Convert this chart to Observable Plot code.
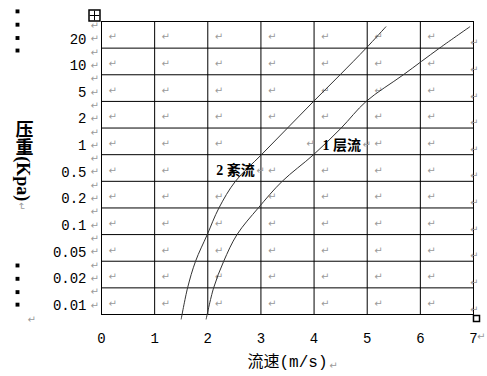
<!DOCTYPE html>
<html><head><meta charset="utf-8">
<script src="https://cdn.jsdelivr.net/npm/d3@7"></script>
<script src="https://cdn.jsdelivr.net/npm/@observablehq/plot@0.6"></script>
<style>
html,body{margin:0;padding:0;background:#fff;}
#chart svg{display:block;}
</style></head><body><div id="chart"></div>
<script>
// ---- data ----
// pressure row labels (Kpa), top row to bottom row
const rowLabels = ["20", "10", "5", "2", "1", "0.5", "0.2", "0.1", "0.05", "0.02", "0.01"];
// velocity tick labels (m/s)
const xTicks = [0, 1, 2, 3, 4, 5, 6, 7];
// curve 1: laminar (层流) — velocity vs row position (0 = bottom edge, 11 = top edge)
const laminarV   = [1.97, 2.11, 2.30, 2.55, 2.95, 3.40, 3.99, 4.51, 4.98, 5.68, 6.36, 6.93];
const laminarRow = [-0.17, 1, 2, 3, 4, 5, 6, 7, 8, 9, 10, 10.8];
// curve 2: turbulent (紊流)
const turbV   = [1.50, 1.62, 1.77, 1.99, 2.21, 2.52, 3.01, 3.50, 3.99, 4.49, 4.98, 5.35];
const turbRow = [-0.17, 1, 2, 3, 4, 5, 6, 7, 8, 9, 10, 10.8];
// curve labels
const curveNames = ["1 层流", "2 紊流"];
const curveLabelV = [4.16, 2.16];
const curveLabelRow = [6.36, 5.39];
// titles
const xTitle = "流速(m/s)";
const yTitle = "压重(Kpa)";
// left-margin bullet marks (row positions)
const bulletRows = [11.38, 10.88, 10.38, 9.91, 1.84, 1.34, 0.84, 0.37];

// ---- derived tables ----
const rowIdx = rowLabels.map((d, i) => 10 - i);
const tickPos = rowIdx.map(k => k + 0.34);
const labelOf = new Map(tickPos.map((p, i) => [p, rowLabels[i]]));
const laminar = laminarV.map((v, i) => ({v, r: laminarRow[i]}));
const turbulent = turbV.map((v, i) => ({v, r: turbRow[i]}));
const curveLabels = curveNames.map((t, i) => ({t, v: curveLabelV[i], r: curveLabelRow[i]}));
const cells = d3.cross(d3.range(7), rowIdx)
  .filter(([c, k]) => !(k === 5 && c === 2) && !(k === 6 && c === 4))
  .map(([c, k]) => ({v: (k === 6 && c === 3) ? c + 0.93 : c + 0.21, r: k + 0.41}));

const narrow = "Liberation Sans Narrow, Liberation Mono, monospace";
const mono = "Liberation Mono, DejaVu Sans Mono, Noto Sans CJK SC, monospace";
const serif = "Liberation Serif, DejaVu Serif, Noto Sans CJK SC, serif";
const arrowFont = "DejaVu Sans, sans-serif";
const gray = "#9a9a9a";
const RET = "\u21B5";

const chart = Plot.plot({
  width: 487,
  height: 376,
  marginLeft: 101,
  marginRight: 14,
  marginTop: 21,
  marginBottom: 62,
  style: {fontFamily: mono, fontSize: "12px", background: "white", color: "black"},
  x: {domain: [0, 7]},
  y: {domain: [0, 11]},
  marks: [
    Plot.gridX({ticks: d3.range(1, 7), stroke: "black", strokeOpacity: 1, strokeWidth: 1}),
    Plot.gridY({ticks: d3.range(1, 11), stroke: "black", strokeOpacity: 1, strokeWidth: 1}),
    Plot.frame({stroke: "black", strokeWidth: 1}),
    Plot.axisX({ticks: xTicks, tickSize: 0, tickPadding: 19, tickFormat: d => String(d), label: null, fontSize: 14, fontFamily: narrow}),
    Plot.axisY({ticks: tickPos, tickSize: 0, tickPadding: 15, tickFormat: d => labelOf.get(d), label: null, fontSize: 14, fontFamily: narrow}),
    // paragraph marks
    Plot.text(cells, {x: "v", y: "r", text: () => RET, fill: gray, fontSize: 10, fontFamily: arrowFont}),
    Plot.text(rowIdx, {y: k => k + 0.19, frameAnchor: "right", dx: 5, text: () => RET, fill: gray, fontSize: 10, fontFamily: arrowFont}),
    Plot.text(rowIdx, {y: k => k + 0.34, frameAnchor: "left", dx: -11, text: () => RET, fill: gray, fontSize: 10, fontFamily: arrowFont}),
    Plot.text(rowIdx, {y: k => k + 0.84, frameAnchor: "left", dx: -11, text: () => RET, fill: gray, fontSize: 10, fontFamily: arrowFont}),
    Plot.text([RET], {frameAnchor: "bottom-right", dx: 12, dy: 25, fill: gray, fontSize: 10, fontFamily: arrowFont}),
    Plot.text([RET], {frameAnchor: "bottom", dx: 46, dy: 54, fill: gray, fontSize: 10, fontFamily: arrowFont}),
    Plot.text([RET], {frameAnchor: "bottom-left", dx: -74, dy: 8, fill: gray, fontSize: 10, fontFamily: arrowFont}),
    Plot.text([RET], {frameAnchor: "left", dx: -80, dy: 34, rotate: 90, fill: gray, fontSize: 10, fontFamily: arrowFont}),
    Plot.text(curveLabels, {x: "v", y: "r", text: () => RET, dx: 40, textAnchor: "start", fill: gray, fontSize: 10, fontFamily: arrowFont}),
    // curves
    Plot.line(turbulent, {x: "v", y: "r", curve: "catmull-rom", stroke: "#333", strokeWidth: 1}),
    Plot.line(laminar, {x: "v", y: "r", curve: "catmull-rom", stroke: "#333", strokeWidth: 1}),
    Plot.text(curveLabels, {x: "v", y: "r", text: "t", textAnchor: "start", fontSize: 14, fontWeight: "bold", fontFamily: serif}),
    // titles
    Plot.text([xTitle], {frameAnchor: "bottom", dy: 52, fontSize: 16, fontFamily: mono}),
    Plot.text([yTitle], {frameAnchor: "left", dx: -79, dy: -13, fontSize: 18, fontWeight: "bold", fontFamily: serif}),
    // Word artefacts
    Plot.dot(bulletRows, {y: d => d, frameAnchor: "left", dx: -84, symbol: "square", r: 2.2, fill: "black", stroke: null}),
    Plot.dot([0], {frameAnchor: "top-left", dx: -7, dy: -6, symbol: "square", r: 6.2, fill: "white", stroke: "black"}),
    Plot.dot([0], {frameAnchor: "top-left", dx: -7, dy: -6, symbol: "plus", r: 3.2, fill: "none", stroke: "black", strokeWidth: 1}),
    Plot.dot([0], {frameAnchor: "bottom-right", dx: 3, dy: 4, symbol: "square", r: 3.4, fill: "white", stroke: "black"})
  ]
});

d3.select(chart).selectAll("text")
  .filter(function() { return this.textContent === yTitle; })
  .attr("dy", null)
  .attr("text-anchor", "middle")
  .style("writing-mode", "vertical-rl");

document.getElementById("chart").appendChild(chart);
</script>
</body></html>
